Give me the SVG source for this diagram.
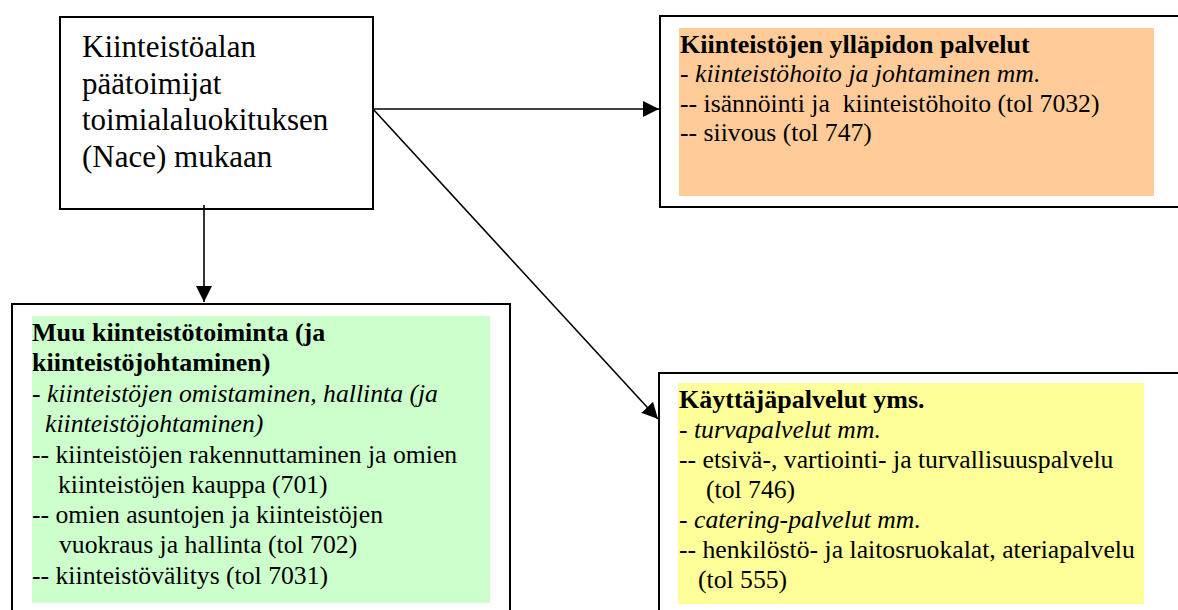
<svg xmlns="http://www.w3.org/2000/svg" width="1178" height="610" viewBox="0 0 1178 610">
  <style>
    text { font-family: "Liberation Serif", "Liberation Sans", Arial, sans-serif; fill: #000000; }
    .box { fill: #ffffff; stroke: #000000; stroke-width: 2; }
    .big { font-size: 31px; }
    .txt { font-size: 25.7px; }
    .b { font-weight: bold; font-size: 26px; }
    .i { font-style: italic; }
    .edge { stroke: #000000; stroke-width: 1.6; fill: none; }
  </style>
  <defs>
    <marker id="arrowL" viewBox="0 0 10 10" refX="10" refY="5" markerWidth="10" markerHeight="10" orient="auto">
      <path d="M0,0 L10,5 L0,10 z" fill="#000000"/>
    </marker>
  </defs>

  <!-- main box: actors by industry classification -->
  <g id="node-paatoimijat">
    <rect class="box" x="60" y="17" width="313" height="192"/>
    <text class="big" x="82" y="57">Kiinteistöalan</text>
    <text class="big" x="82" y="94">päätoimijat</text>
    <text class="big" x="82" y="130">toimialaluokituksen</text>
    <text class="big" x="82" y="167">(Nace) mukaan</text>
  </g>

  <!-- maintenance services -->
  <g id="node-yllapito">
    <rect class="box" x="660" y="16" width="530" height="191"/>
    <rect x="679" y="28" width="475" height="168" fill="#ffcc99"/>
    <text class="txt b" x="680" y="53">Kiinteistöjen ylläpidon palvelut</text>
    <text class="txt" x="680" y="82" xml:space="preserve">- <tspan class="i">kiinteistöhoito ja johtaminen mm.</tspan></text>
    <text class="txt" x="680" y="112" xml:space="preserve">-- isännöinti ja  kiinteistöhoito (tol 7032)</text>
    <text class="txt" x="680" y="141">-- siivous (tol 747)</text>
  </g>

  <!-- other real estate activity -->
  <g id="node-muu">
    <rect class="box" x="12" y="304" width="498" height="320"/>
    <rect x="32" y="316" width="458" height="287" fill="#ccffcc"/>
    <text class="txt b" x="32" y="341">Muu kiinteistötoiminta (ja</text>
    <text class="txt b" x="32" y="371">kiinteistöjohtaminen)</text>
    <text class="txt" x="32" y="402" xml:space="preserve">- <tspan class="i">kiinteistöjen omistaminen, hallinta (ja</tspan></text>
    <text class="txt i" x="45" y="432">kiinteistöjohtaminen)</text>
    <text class="txt" x="32" y="463">-- kiinteistöjen rakennuttaminen ja omien</text>
    <text class="txt" x="58" y="493">kiinteistöjen kauppa (701)</text>
    <text class="txt" x="32" y="523">-- omien asuntojen ja kiinteistöjen</text>
    <text class="txt" x="59" y="553">vuokraus ja hallinta (tol 702)</text>
    <text class="txt" x="32" y="584">-- kiinteistövälitys (tol 7031)</text>
  </g>

  <!-- user services -->
  <g id="node-kayttaja">
    <rect class="box" x="659" y="373" width="530" height="250"/>
    <rect x="678" y="383" width="466" height="221" fill="#ffff99"/>
    <text class="txt b" x="679" y="408">Käyttäjäpalvelut yms.</text>
    <text class="txt" x="679" y="438" xml:space="preserve">- <tspan class="i">turvapalvelut mm.</tspan></text>
    <text class="txt" x="679" y="468">-- etsivä-, vartiointi- ja turvallisuuspalvelu</text>
    <text class="txt" x="706" y="498">(tol 746)</text>
    <text class="txt" x="679" y="528" xml:space="preserve">- <tspan class="i">catering-palvelut mm.</tspan></text>
    <text class="txt" x="679" y="558">-- henkilöstö- ja laitosruokalat, ateriapalvelu</text>
    <text class="txt" x="698" y="588">(tol 555)</text>
  </g>

  <!-- connectors -->
  <g id="connectors">
    <line class="edge" x1="373" y1="109" x2="659" y2="109" marker-end="url(#arrowL)"/>
    <line class="edge" x1="373" y1="109" x2="658" y2="419" marker-end="url(#arrowL)"/>
    <line class="edge" x1="204" y1="205" x2="204" y2="302" marker-end="url(#arrowL)"/>
  </g>
</svg>
